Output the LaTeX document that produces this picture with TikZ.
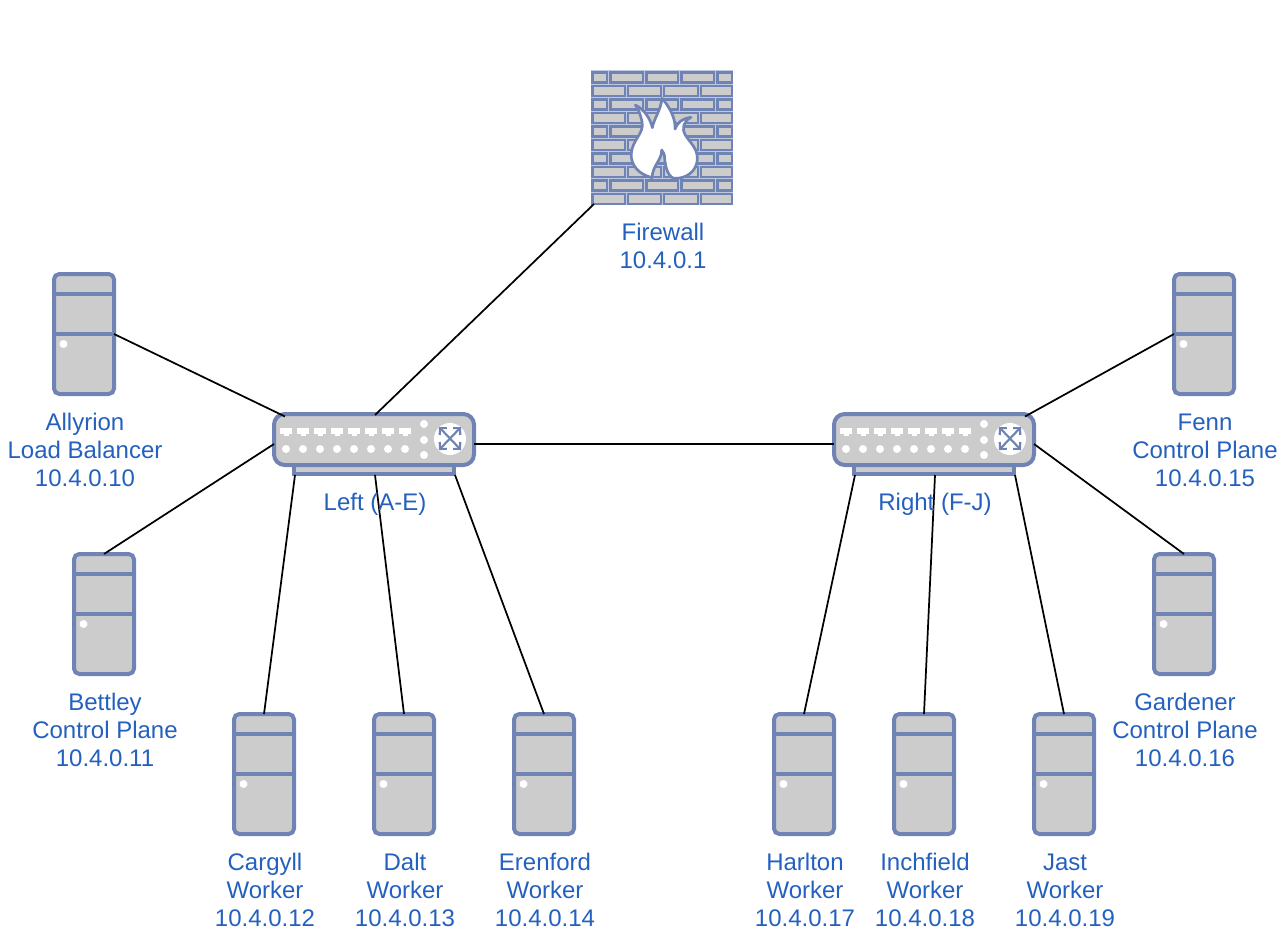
\documentclass[tikz,border=0pt]{standalone}
\usepackage{fontspec}
\setmainfont{Liberation Sans}
\usetikzlibrary{arrows.meta}
\definecolor{edge}{RGB}{111,131,181}
\definecolor{fillg}{RGB}{204,204,204}
\definecolor{txt}{RGB}{36,96,190}
\tikzset{
  x=0.75pt,y=-0.75pt,
  srvbody/.style={draw=edge,fill=fillg,line width=3pt,rounded corners=4pt,minimum width=45pt,minimum height=90pt,inner sep=0pt,outer sep=0pt},
  swbody/.style={draw=edge,fill=fillg,line width=3pt,rounded corners=8pt,minimum width=150pt,minimum height=38.25pt,inner sep=0pt,outer sep=0pt},
  swbase/.style={draw=edge,fill=fillg,line width=2.6pt},
  edgeline/.style={draw=edge,line width=3pt},
  brick/.style={draw=edge,fill=fillg,line width=2.2pt},
  flame/.style={draw=edge,fill=white,line width=2pt,line join=round},
  lbl/.style={text=txt,font=\fontsize{18}{21}\selectfont,align=center,inner sep=0pt,outer sep=0pt},
  wire/.style={draw=black,line width=1.3pt},
  xarrow/.style={draw=edge,line width=1.6pt,-{Straight Barb[length=3.6pt,width=7.5pt,line width=1.6pt]}},
}
\newcommand{\serverbox}[3]{% name, centre x, top y
  \node[srvbody] (#1) at (#2,#3+60) {};
  \draw[edgeline] (#2-30,#3+20) -- (#2+30,#3+20);
  \draw[edgeline] (#2-30,#3+60) -- (#2+30,#3+60);
  \fill[white] (#2-20.5,#3+70) circle (3pt);
}
\newcommand{\switchbox}[2]{% name, x offset
  \begin{scope}[shift={(#2,0)}]
    \draw[swbase] (294,460) rectangle (454,474);
    \node[swbody] (#1) at (374,439.5) {};
    \coordinate (#1-nw) at (285,416.5);
    \coordinate (#1-n) at (375,415);
    \coordinate (#1-w) at (274,444);
    \coordinate (#1-e) at (474,444);
    \coordinate (#1-ne) at (465,416.5);
    \coordinate (#1-b1) at (295,475);
    \coordinate (#1-b2) at (375,475);
    \coordinate (#1-b3) at (455,475);
    \foreach \i in {0,...,7}{
      \fill[white] ({280+17*\i},428) rectangle ({292+17*\i},433.5);
      \fill[white] ({283.5+17*\i},433) rectangle ({288.5+17*\i},436);
      \fill[white] ({286+17*\i},449) circle (3pt);
    }
    \foreach \yy in {424,440,455}{\fill[white] (424,\yy) circle (3pt);}
    \fill[white] (450,439) circle (12pt);
    \foreach \tx/\ty in {439/427,461/427,439/450,461/450}{\draw[xarrow] (450,438.5) -- (\tx,\ty);}
  \end{scope}
}
\begin{document}
\begin{tikzpicture}
\path[use as bounding box] (0,0) rectangle (1288,942);
% firewall
\node[inner sep=0pt,outer sep=0pt,minimum width=105pt,minimum height=99pt] (fw) at (662,138) {};
\fill[edge!45!white] (591,70.5) rectangle (733,205);
\foreach \r in {0,2,4,6,8}{
  \foreach \a/\b in {592.5/607,610.5/643,646.5/678,681.5/714,717.5/732}{
    \draw[brick] (\a,{72.5+13.5*\r}) rectangle (\b,{82.5+13.5*\r});
  }
  \foreach \a/\b in {592.5/625,628/661,664/698,701/732}{
    \draw[brick] (\a,{86+13.5*\r}) rectangle (\b,{96+13.5*\r});
  }
}
\begin{scope}[shift={(622,85)},x=0.25pt,y=-0.25pt]
  \path[flame] (90,278) .. controls (50,268) and (25,240) .. (28,205)
    .. controls (30,165) and (68,145) .. (60,110)
    .. controls (56,92) and (50,72) .. (40,60)
    .. controls (65,72) and (85,100) .. (91,128)
    .. controls (96,100) and (115,80) .. (120,40)
    .. controls (140,62) and (162,100) .. (159,132)
    .. controls (165,115) and (180,100) .. (207,97)
    .. controls (185,108) and (178,130) .. (190,150)
    .. controls (205,175) and (228,190) .. (226,225)
    .. controls (222,262) and (190,282) .. (155,280)
    .. controls (135,272) and (130,240) .. (128,222)
    .. controls (128,210) and (125,200) .. (119,195)
    .. controls (120,225) and (92,240) .. (90,278) -- cycle;
\end{scope}
% servers
\serverbox{allyrion}{84}{274}
\serverbox{bettley}{104}{554}
\serverbox{cargyll}{264}{714}
\serverbox{dalt}{404}{714}
\serverbox{erenford}{544}{714}
\serverbox{harlton}{804}{714}
\serverbox{inchfield}{924}{714}
\serverbox{jast}{1064}{714}
\serverbox{fenn}{1204}{274}
\serverbox{gardener}{1184}{554}
% switches
\switchbox{lsw}{0}
\switchbox{rsw}{560}
% connectors
\draw[wire] (fw.south west) ++(2,0) -- (lsw-n);
\draw[wire] (allyrion.east) -- (lsw-nw);
\draw[wire] (bettley.north) -- (lsw-w);
\draw[wire] (cargyll.north) -- (lsw-b1);
\draw[wire] (dalt.north) -- (lsw-b2);
\draw[wire] (erenford.north) -- (lsw-b3);
\draw[wire] (lsw-e) -- (rsw-w);
\draw[wire] (harlton.north) -- (rsw-b1);
\draw[wire] (inchfield.north) -- (rsw-b2);
\draw[wire] (jast.north) -- (rsw-b3);
\draw[wire] (fenn.west) -- (rsw-ne);
\draw[wire] (gardener.north) -- (rsw-e);
% labels
\node[lbl] (lfw) at (663,246) {Firewall\\10.4.0.1};
\node[lbl] (lal) at (85,450) {Allyrion\\Load Balancer\\10.4.0.10};
\node[lbl] (lbe) at (105,730) {Bettley\\Control Plane\\10.4.0.11};
\node[lbl] (lca) at (265,890) {Cargyll\\Worker\\10.4.0.12};
\node[lbl] (lda) at (405,890) {Dalt\\Worker\\10.4.0.13};
\node[lbl] (ler) at (545,890) {Erenford\\Worker\\10.4.0.14};
\node[lbl] (lha) at (805,890) {Harlton\\Worker\\10.4.0.17};
\node[lbl] (lin) at (925,890) {Inchfield\\Worker\\10.4.0.18};
\node[lbl] (lja) at (1065,890) {Jast\\Worker\\10.4.0.19};
\node[lbl] (lfe) at (1205,450) {Fenn\\Control Plane\\10.4.0.15};
\node[lbl] (lga) at (1185,730) {Gardener\\Control Plane\\10.4.0.16};
\node[lbl] (lle) at (375,504) {Left (A-E)};
\node[lbl] (lri) at (935,504) {Right (F-J)};
\end{tikzpicture}
\end{document}
